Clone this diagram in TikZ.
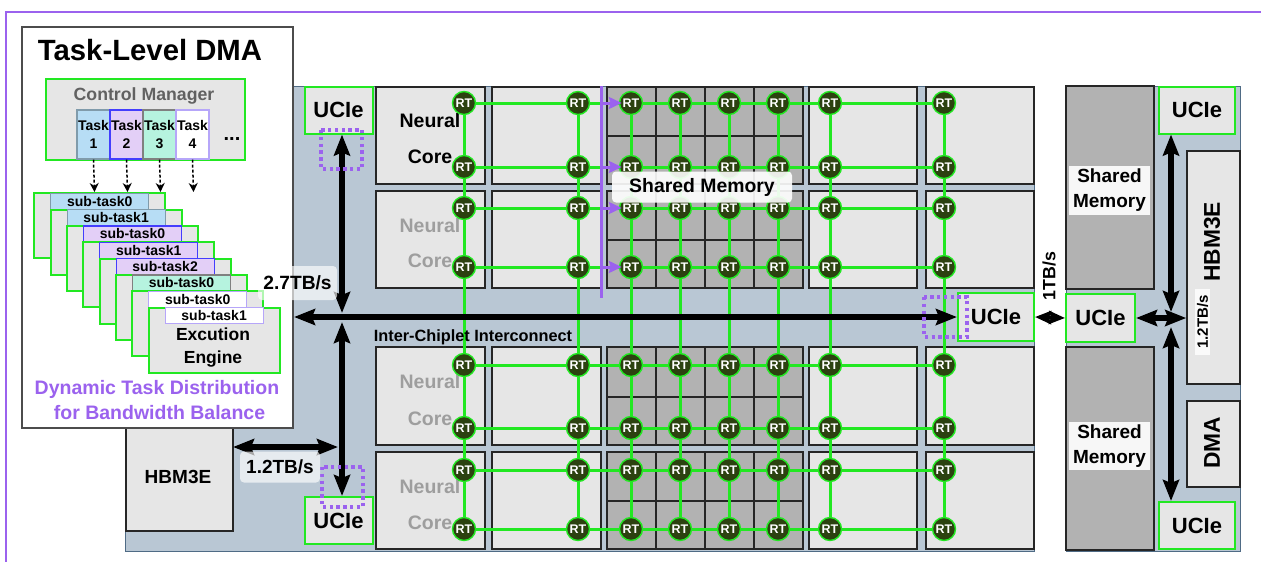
\documentclass[tikz,border=0pt]{standalone}
\usepackage{fontspec}
\setmainfont{Liberation Sans}
\usetikzlibrary{arrows.meta}
\definecolor{chipbg}{HTML}{B9C7D4}
\definecolor{chipedge}{HTML}{4F6B85}
\definecolor{coregray}{HTML}{E6E6E6}
\definecolor{memgray}{HTML}{B2B2B2}
\definecolor{wiregreen}{HTML}{22E822}
\definecolor{rtdark}{HTML}{2C4210}
\definecolor{dmapurple}{HTML}{9B62EE}
\definecolor{taskblue}{HTML}{B7DDF5}
\definecolor{taskpurple}{HTML}{E3CFF7}
\definecolor{taskmint}{HTML}{B6F3DF}
\tikzset{
	txt/.style={font=\bfseries\fontsize{#1}{#1}\selectfont, inner sep=0pt},
	box/.style 2 args={minimum width=#1pt, minimum height=#2pt, inner sep=0pt},
	corebox/.style={draw=black!85, line width=1.5pt, fill=coregray},
	membox/.style={draw=black!85, line width=1.5pt, fill=memgray},
	greenbox/.style={draw=wiregreen, line width=2pt, fill=coregray},
	rtnode/.style={circle, draw=wiregreen, line width=1.4pt, fill=rtdark, text=white, minimum size=23pt, txt=12.5},
	wire/.style={draw=wiregreen, line width=3pt},
	bigarrow/.style={draw=black, line width=5.5pt, {Stealth[length=21pt,width=16pt,inset=3pt]}-{Stealth[length=21pt,width=16pt,inset=3pt]}},
	probe/.style={draw=dmapurple, line width=3.4pt, dash pattern=on 3.4pt off 3.4pt},
	buslabel/.style={fill=white, fill opacity=0.65, text opacity=1, rounded corners=4pt}
}

\begin{document}
\begin{tikzpicture}[x=1pt, y=-1pt]
	\useasboundingbox (0, 0) rectangle (1261, 562);
	\draw[dmapurple, line width=2.2pt] (6, 562)--(6, 12)--(1261, 12);

	% chiplet backgrounds
	\draw[chipedge, fill=chipbg, line width=1pt] (125, 86) rectangle (1034, 551);
	\draw[chipedge, fill=chipbg, line width=1pt] (1066, 86) rectangle (1240, 551);

	% neural core columns and memory cells
	\foreach \ya/\yb in {87/184, 191/288, 347/445, 452/549}{
		\draw[corebox] (376, \ya) rectangle (485, \yb);
		\draw[corebox] (492, \ya) rectangle (601, \yb);
		\draw[corebox] (809, \ya) rectangle (917, \yb);
		\draw[corebox] (926, \ya) rectangle (1034, \yb);
	}
	\foreach \ya/\yb in {87/136, 136/184, 191/240, 240/288, 347/397, 397/445, 452/501, 501/549}{
		\foreach \xa/\xb in {607/656, 656/705, 705/754, 754/803}{
			\draw[membox] (\xa, \ya) rectangle (\xb, \yb);
		}
	}

	\node[txt=19.5] (neurala) at (430, 121){Neural};
	\node[txt=19.5] (corea) at (430, 157){Core};
	\foreach \ya/\yb [count=\n] in {226/261, 382/419, 487/523}{
		\node[txt=19.5, text=black!38] (neuralb\n) at (430, \ya){Neural};
		\node[txt=19.5, text=black!38] (coreb\n) at (430, \yb){Core};
	}

	% routers
	\foreach \x [count=\c] in {464, 578, 631, 680, 729, 778, 830, 944}{
		\foreach \y [count=\r] in {103, 167, 208, 267, 365, 428, 470, 529}{
			\node[rtnode] (rt-\c-\r) at (\x, \y){RT};
		}
	}
	\foreach \r in {1, ..., 8}{
		\foreach \a/\b in {1/2, 2/3, 3/4, 4/5, 5/6, 6/7, 7/8}{
			\draw[wire] (rt-\a-\r)--(rt-\b-\r);
		}
	}
	\foreach \c in {1, ..., 8}{
		\foreach \a/\b in {1/2, 2/3, 3/4, 4/5, 5/6, 6/7, 7/8}{
			\draw[wire] (rt-\c-\a)--(rt-\c-\b);
		}
	}

	% shared memory bus
	\coordinate (bustop) at (601, 86);
	\coordinate (busbot) at (601, 298);
	\draw[dmapurple, line width=3pt] (bustop)--(busbot);
	\foreach \r in {1, ..., 4}{
		\draw[dmapurple, line width=3pt, -{Stealth[length=13pt,width=12pt,inset=2pt]}, shorten >=-3pt] (rt-3-\r.west -| bustop)--(rt-3-\r.west);
	}
	\node[box={180}{31}, fill=white, fill opacity=0.9, text opacity=1, rounded corners=4pt, txt=19.4] (sharedtop) at (702, 187){Shared Memory};
	\node[txt=16.3] (interconnect) at (473, 337){Inter-Chiplet Interconnect};

	% left HBM and bottom UCIe
	\node[box={107}{108}, corebox] (hbma) at (179.5, 477){};
	\node[txt=19] (hbmatext) at (178, 477){HBM3E};

	\node[box={68}{47}, greenbox, txt=22] (uciea) at (338.5, 110){UCIe};
	\node[box={68}{47}, greenbox, txt=22] (ucieb) at (338.5, 520.5){UCIe};
	\node[box={76}{48}, greenbox, txt=22] (uciec) at (996, 317){UCIe};
	\node[box={69}{48}, greenbox, txt=22] (ucied) at (1100.5, 318){UCIe};
	\node[box={76}{47}, greenbox, txt=22] (uciee) at (1197, 110){UCIe};
	\node[box={76}{47}, greenbox, txt=22] (ucief) at (1197, 525.5){UCIe};

	% right chiplet
	\node[box={88}{203}, membox] (mema) at (1110, 187.5){};
	\node[box={88}{203}, membox] (memb) at (1110, 448.5){};
	\node[box={81}{49}, fill=white, fill opacity=0.9, text opacity=1, align=center, font=\bfseries\fontsize{19}{25}\selectfont] (memalabel) at (1109.5, 190.5){Shared\\Memory};
	\node[box={81}{48}, fill=white, fill opacity=0.9, text opacity=1, align=center, font=\bfseries\fontsize{19}{25}\selectfont] (memblabel) at (1109.5, 446){Shared\\Memory};
	\node[box={53}{233}, corebox] (hbmb) at (1213.5, 267.5){};
	\node[txt=22.8, rotate=90] (hbmbtext) at (1212, 242){HBM3E};
	\node[box={53}{86}, corebox] (dma) at (1213.5, 444){};
	\node[txt=22.8, rotate=90] (dmatext) at (1212, 443){DMA};

	% bandwidth arrows
	\coordinate (hublup) at (342, 313);
	\coordinate (hubldown) at (342, 322);
	\coordinate (hubleft) at (294, 317);
	\coordinate (hbmport) at (233, 447);
	\coordinate (hbmjoin) at (338, 447);
	\coordinate (hubrup) at (1171, 312);
	\coordinate (hubrdown) at (1171, 327);
	\draw[bigarrow] (uciea.south -| hublup)--(hublup);
	\draw[bigarrow] (hubldown)--(ucieb.north -| hubldown);
	\draw[bigarrow] (hubleft)--(uciec.west);
	\draw[bigarrow] (hbmport)--(hbmjoin);
	\draw[bigarrow] (uciee.south -| hubrup)--(hubrup);
	\draw[bigarrow] (hubrdown)--(ucief.north -| hubrdown);
	\draw[bigarrow] (ucied.east)--(hbmb.west |- ucied.east);
	\draw[draw=black, line width=3.5pt, {Stealth[length=16pt,width=13pt,inset=2pt]}-{Stealth[length=16pt,width=13pt,inset=2pt]}] (uciec.east)--(ucied.west);

	% dotted probes on the links
	\draw[probe] (321, 130) rectangle (362, 169);
	\draw[probe] (322, 467) rectangle (363, 507);
	\draw[probe] (924, 297) rectangle (967, 337);

	% task level panel
	\node[box={271}{401}, draw=black!70, line width=1.2pt, fill=white] (panel) at (157.5, 227.5){};
	\node[txt=29.3] (paneltitle) at (150, 50){Task-Level DMA};
	\node[box={199}{81}, greenbox] (ctrl) at (145, 119){};
	\node[txt=17.7, text=black!62] (ctrltext) at (144, 96){Control Manager};
	\foreach \x/\fillc/\edgec/\t in {93.5/taskblue/black!30!taskblue/1, 126.5/taskpurple/blue!70!taskpurple/2, 159.5/taskmint/black!50/3, 192.5/white/taskpurple!80!blue/4}{
		\node[box={33}{49}, fill=\fillc, draw=\edgec, line width=1.1pt, align=center, font=\bfseries\fontsize{14}{18}\selectfont] (task\t) at (\x, 134.5){Task\\\t};
		\coordinate (taskend\t) at (\x+1, 192);
		\draw[densely dashed, line width=1.5pt, -{Stealth[length=9pt,width=9pt]}] (task\t.south)--(taskend\t);
	}
	\node[txt=20] (taskdots) at (232, 139){...};

	% execution engines and their sub tasks
	\foreach \i/\fillc/\edgec/\t [count=\n from 0] in {1/taskblue/black!30!taskblue/0, 2/taskblue/black!30!taskblue/1, 3/taskpurple/blue!70!taskpurple/0, 4/taskpurple/blue!70!taskpurple/1, 5/taskpurple/blue!70!taskpurple/2, 6/taskmint/black!50/0, 7/white/taskpurple!80!blue/0, 8/white/taskpurple!80!blue/1}{
		\node[box={131}{65}, greenbox] (engine\i) at (99.8+16.33*\n, 225.8+16.33*\n){};
		\node[box={98}{16}, fill=\fillc, draw=\edgec, line width=1.1pt, txt=14] (subtask\i) at (99.8+16.33*\n, 201.3+16.33*\n){sub-task\t};
	}
	\node[txt=17.5] (enginea) at (213, 334){Excution};
	\node[txt=17.5] (engineb) at (213, 359){Engine};
	\node[txt=19.5, text=dmapurple] (balancea) at (157, 389){Dynamic Task Distribution};
	\node[txt=19.5, text=dmapurple] (balanceb) at (159.5, 413){for Bandwidth Balance};

	% bandwidth labels
	\node[box={79}{34}, buslabel, txt=19.2] (bwa) at (297.5, 283){2.7TB/s};
	\node[box={80}{31}, buslabel, txt=19] (bwb) at (280, 467){1.2TB/s};
	\node[txt=17.8, rotate=90] (bwc) at (1049, 276){1TB/s};
	\node[box={66}{15}, fill=white, fill opacity=0.8, text opacity=1, txt=15, rotate=90] (bwd) at (1202.5, 322){1.2TB/s};
\end{tikzpicture}
\end{document}
